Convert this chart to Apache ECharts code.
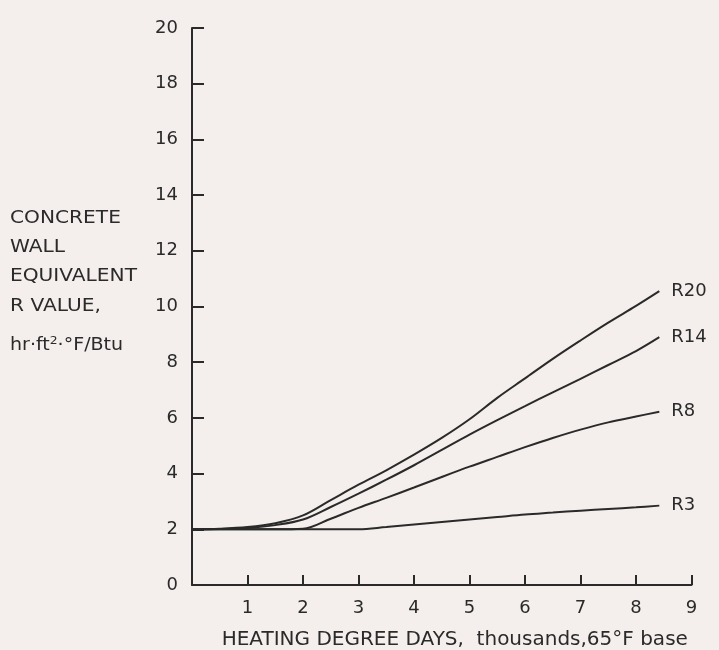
<!DOCTYPE html>
<html>
<head>
<meta charset="utf-8">
<title>Concrete wall equivalent R value</title>
<script src="https://cdn.jsdelivr.net/npm/echarts@6/dist/echarts.min.js"></script>
<style>
  html, body { margin: 0; padding: 0; background: #f4efec; }
  #chart { width: 719px; height: 650px; }
</style>
</head>
<body>
<div id="chart"></div>
<script>
// Heating degree days (thousands, 65°F base) at which each curve is sampled
const hdd = [0, 0.5, 1, 1.5, 2, 2.5, 3, 3.5, 4, 4.5, 5, 5.5, 6, 6.5, 7, 7.5, 8, 8.42];

// Equivalent R value of the concrete wall for each insulation level
const r20 = [2, 2.02, 2.08, 2.22, 2.5, 3.05, 3.6, 4.12, 4.68, 5.28, 5.95, 6.72, 7.42, 8.12, 8.78, 9.42, 10.02, 10.55];
const r14 = [2, 2.01, 2.05, 2.15, 2.35, 2.8, 3.28, 3.78, 4.3, 4.85, 5.4, 5.92, 6.42, 6.92, 7.4, 7.9, 8.4, 8.9];
const r8  = [2, 2, 2, 2, 2.02, 2.38, 2.77, 3.13, 3.5, 3.88, 4.25, 4.6, 4.95, 5.28, 5.58, 5.84, 6.05, 6.22];
const r3  = [2, 2, 2, 2, 2, 2, 2, 2.08, 2.17, 2.26, 2.35, 2.44, 2.53, 2.6, 2.67, 2.73, 2.79, 2.85];

const seriesNames = ['R20', 'R14', 'R8', 'R3'];
const seriesValues = [r20, r14, r8, r3];

// Tick labels
const xTickLabels = ['', '1', '2', '3', '4', '5', '6', '7', '8', '9'];
const yTickLabels = ['0', '2', '4', '6', '8', '10', '12', '14', '16', '18', '20'];

// Left-hand axis caption, one entry per line (vertical centre of each line)
const yCaption = ['CONCRETE', 'WALL', 'EQUIVALENT', 'R VALUE,', 'hr·ft{sup|2}·°F/Btu'];
const yCaptionCentres = [218, 247, 276, 306, 346];

const ink = '#2a2a2a';
const font = 'DejaVu Sans';

const chart = echarts.init(document.getElementById('chart'), null, { renderer: 'canvas' });

const option = {
  backgroundColor: '#f4efec',
  animation: false,
  textStyle: { fontFamily: font, color: ink },
  grid: {
    left: 192, right: 27.5, top: 28, bottom: 65,
    containLabel: false, outerBoundsMode: 'none'
  },
  xAxis: {
    type: 'value', min: 0, max: 9, interval: 1,
    name: 'HEATING DEGREE DAYS,  thousands,65°F base',
    nameLocation: 'middle', nameGap: 45,
    nameTextStyle: { fontFamily: font, fontSize: 20, color: ink, align: 'center', padding: [0, 0, 0, 26] },
    axisLine: { lineStyle: { color: ink, width: 2 } },
    axisTick: { inside: true, length: 10, lineStyle: { color: ink, width: 2 } },
    axisLabel: {
      fontFamily: font, fontSize: 18, color: ink, margin: 14,
      formatter: (v) => xTickLabels[Math.round(v)] || ''
    },
    splitLine: { show: false }
  },
  yAxis: {
    type: 'value', min: 0, max: 20, interval: 2,
    axisLine: { show: true, lineStyle: { color: ink, width: 2 } },
    axisTick: { show: true, inside: true, length: 12, lineStyle: { color: ink, width: 2 } },
    axisLabel: {
      fontFamily: font, fontSize: 18, color: ink, margin: 14,
      formatter: (v) => yTickLabels[Math.round(v / 2)]
    },
    splitLine: { show: false }
  },
  series: seriesNames.map((name, i) => ({
    name: name,
    type: 'line',
    data: hdd.map((x, k) => [x, seriesValues[i][k]]),
    smooth: 0.35,
    showSymbol: false,
    lineStyle: { color: ink, width: 2 },
    endLabel: {
      show: true, formatter: name, distance: 12,
      fontFamily: font, fontSize: 18, color: ink
    }
  })),
  graphic: yCaption.map((t, i) => ({
    type: 'text', x: 10, y: yCaptionCentres[i], scaleX: 1.12,
    style: {
      text: t, fontFamily: font, fontSize: i === 4 ? 17 : 18, fill: ink,
      verticalAlign: 'middle',
      rich: {
        sup: { fontFamily: font, fontSize: 11, fill: ink, padding: [0, 0, 9, 0] }
      }
    }
  }))
};

chart.setOption(option);
</script>
</body>
</html>
